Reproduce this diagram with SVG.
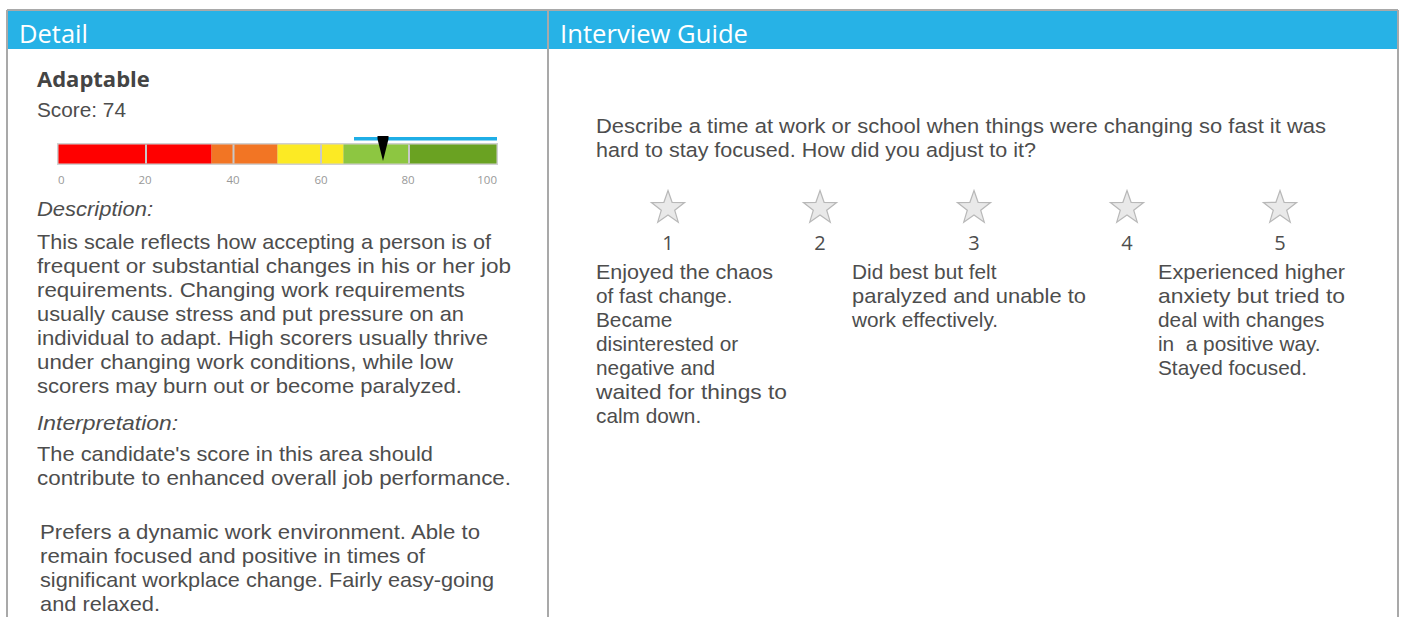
<svg xmlns="http://www.w3.org/2000/svg" width="1403" height="617" viewBox="0 0 1403 617">
<style>
.hdr{fill:#27B2E6}
.hdrt{font-family:"Open Sans",sans-serif;font-size:25.5px;fill:#fff}
.t{font-family:"Liberation Sans",Arial,sans-serif;font-size:20.8px;fill:#4d4d4d}
.it{font-family:"Liberation Sans",Arial,sans-serif;font-size:20.8px;fill:#4d4d4d;font-style:italic}
.b{font-family:"Open Sans",sans-serif;font-size:22px;fill:#444;font-weight:bold}
.tick{font-family:"Open Sans",sans-serif;font-size:11.5px;fill:#999}
.q{font-family:"Liberation Sans",Arial,sans-serif;font-size:20.5px;fill:#4d4d4d}
.num{font-family:"Open Sans",sans-serif;font-size:20px;fill:#4d4d4d;text-anchor:middle}
.bd{stroke:#a9a9a9;stroke-width:2;fill:none}
.sep{stroke:#c8c8c8;stroke-width:2}
.star{fill:#e9e9e9;stroke:#b8b8b8;stroke-width:1.2}
</style>
<defs>
<path id="star" class="star" d="M0,-17.5 L4.1,-5.7 L16.6,-5.4 L6.7,2.2 L10.3,14.2 L0,7.1 L-10.3,14.2 L-6.7,2.2 L-16.6,-5.4 L-4.1,-5.7 Z"/>
</defs>
<rect width="1403" height="617" fill="#fff"/>
<g id="frame">
<line class="bd" x1="7" y1="10" x2="1398" y2="10"/>
<line class="bd" x1="7" y1="10" x2="7" y2="617"/>
<line class="bd" x1="548" y1="10" x2="548" y2="617"/>
<line class="bd" x1="1398" y1="10" x2="1398" y2="617"/>
</g>
<g id="detail-header">
<rect class="hdr" x="8" y="11" width="539" height="38"/>
<text class="hdrt" x="19" y="43">Detail</text>
</g>
<g id="guide-header">
<rect class="hdr" x="549" y="11" width="848" height="38"/>
<text class="hdrt" x="560" y="43" textLength="188" lengthAdjust="spacingAndGlyphs">Interview Guide</text>
</g>
<g id="detail">
<text class="b" x="37" y="87">Adaptable</text>
<text class="t" x="37" y="117" textLength="89" lengthAdjust="spacingAndGlyphs">Score: 74</text>
<g id="gauge">
<rect x="354" y="137" width="143" height="3.5" fill="#1FAEE6"/>
<rect x="57" y="143" width="441" height="22" fill="#d0d0d0"/>
<rect x="58.5" y="144.5" width="153" height="19" fill="#FF0000"/>
<rect x="211.5" y="144.5" width="66" height="19" fill="#F27524"/>
<rect x="277.5" y="144.5" width="66" height="19" fill="#FCEA24"/>
<rect x="343.5" y="144.5" width="65.5" height="19" fill="#8DC641"/>
<rect x="409" y="144.5" width="87.5" height="19" fill="#6AA222"/>
<line class="sep" x1="146" y1="144.5" x2="146" y2="163.5"/>
<line class="sep" x1="233.5" y1="144.5" x2="233.5" y2="163.5"/>
<line class="sep" x1="321" y1="144.5" x2="321" y2="163.5"/>
<line class="sep" x1="409" y1="144.5" x2="409" y2="163.5"/>
<path d="M377.5,136 L388.5,136 L388.5,139 L383,161 L377.5,139 Z" fill="#000"/>
<text class="tick" x="58" y="184">0</text>
<text class="tick" x="145" y="184" text-anchor="middle">20</text>
<text class="tick" x="233" y="184" text-anchor="middle">40</text>
<text class="tick" x="321" y="184" text-anchor="middle">60</text>
<text class="tick" x="408" y="184" text-anchor="middle">80</text>
<text class="tick" x="497" y="184" text-anchor="end">100</text>
</g>
<text class="it" x="37" y="216" textLength="116" lengthAdjust="spacingAndGlyphs">Description:</text>
<text class="t"><tspan x="37" y="249" textLength="454" lengthAdjust="spacingAndGlyphs">This scale reflects how accepting a person is of</tspan><tspan x="37" y="273" textLength="474" lengthAdjust="spacingAndGlyphs">frequent or substantial changes in his or her job</tspan><tspan x="37" y="297" textLength="428" lengthAdjust="spacingAndGlyphs">requirements. Changing work requirements</tspan><tspan x="37" y="321" textLength="427" lengthAdjust="spacingAndGlyphs">usually cause stress and put pressure on an</tspan><tspan x="37" y="345" textLength="451" lengthAdjust="spacingAndGlyphs">individual to adapt. High scorers usually thrive</tspan><tspan x="37" y="369" textLength="416" lengthAdjust="spacingAndGlyphs">under changing work conditions, while low</tspan><tspan x="37" y="393" textLength="425" lengthAdjust="spacingAndGlyphs">scorers may burn out or become paralyzed.</tspan></text>
<text class="it" x="37" y="430" textLength="141" lengthAdjust="spacingAndGlyphs">Interpretation:</text>
<text class="t"><tspan x="37" y="461" textLength="396" lengthAdjust="spacingAndGlyphs">The candidate's score in this area should</tspan><tspan x="37" y="485" textLength="474" lengthAdjust="spacingAndGlyphs">contribute to enhanced overall job performance.</tspan></text>
<text class="t"><tspan x="40" y="539" textLength="440" lengthAdjust="spacingAndGlyphs">Prefers a dynamic work environment. Able to</tspan><tspan x="40" y="563" textLength="385" lengthAdjust="spacingAndGlyphs">remain focused and positive in times of</tspan><tspan x="40" y="587" textLength="454" lengthAdjust="spacingAndGlyphs">significant workplace change. Fairly easy-going</tspan><tspan x="40" y="611" textLength="120" lengthAdjust="spacingAndGlyphs">and relaxed.</tspan></text>
</g>
<g id="guide">
<text class="q"><tspan x="596" y="133" textLength="730" lengthAdjust="spacingAndGlyphs">Describe a time at work or school when things were changing so fast it was</tspan><tspan x="596" y="157" textLength="440" lengthAdjust="spacingAndGlyphs">hard to stay focused. How did you adjust to it?</tspan></text>
<g id="rating-1"><use href="#star" x="668" y="208"/><text class="num" x="668" y="250">1</text></g>
<g id="rating-2"><use href="#star" x="820" y="208"/><text class="num" x="820" y="250">2</text></g>
<g id="rating-3"><use href="#star" x="974" y="208"/><text class="num" x="974" y="250">3</text></g>
<g id="rating-4"><use href="#star" x="1127" y="208"/><text class="num" x="1127" y="250">4</text></g>
<g id="rating-5"><use href="#star" x="1280" y="208"/><text class="num" x="1280" y="250">5</text></g>
<g id="answer-1">
<text class="t"><tspan x="596" y="279" textLength="177" lengthAdjust="spacingAndGlyphs">Enjoyed the chaos</tspan><tspan x="596" y="303">of fast change.</tspan><tspan x="596" y="327">Became</tspan><tspan x="596" y="351">disinterested or</tspan><tspan x="596" y="375">negative and</tspan><tspan x="596" y="399" textLength="191" lengthAdjust="spacingAndGlyphs">waited for things to</tspan><tspan x="596" y="423">calm down.</tspan></text>
</g>
<g id="answer-3">
<text class="t"><tspan x="852" y="279">Did best but felt</tspan><tspan x="852" y="303" textLength="234" lengthAdjust="spacingAndGlyphs">paralyzed and unable to</tspan><tspan x="852" y="327">work effectively.</tspan></text>
</g>
<g id="answer-5">
<text class="t" xml:space="preserve"><tspan x="1158" y="279" textLength="187" lengthAdjust="spacingAndGlyphs">Experienced higher</tspan><tspan x="1158" y="303" textLength="187" lengthAdjust="spacingAndGlyphs">anxiety but tried to</tspan><tspan x="1158" y="327">deal with changes</tspan><tspan x="1158" y="351">in  a positive way.</tspan><tspan x="1158" y="375">Stayed focused.</tspan></text>
</g>
</g>
</svg>
